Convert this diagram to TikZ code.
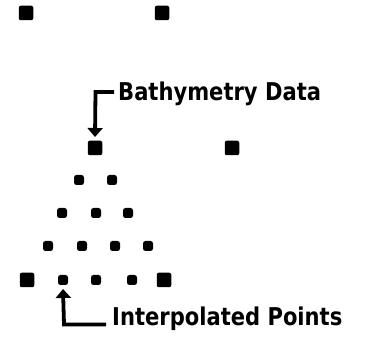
\documentclass[tikz,border=0pt]{standalone}
\usepackage{fontspec}
\newfontfamily\labelfont{DejaVu Sans}[FakeStretch=0.86]
\usetikzlibrary{arrows.meta}
\begin{document}
\begin{tikzpicture}[x=1pt,y=-1pt,
  datapt/.style={fill=black,minimum size=14.5pt,inner sep=0pt,rounded corners=2pt,rectangle},
  interp/.style={fill=black,minimum size=10pt,inner sep=0pt,rounded corners=2.5pt,rectangle},
  leader/.style={line width=3.8pt,-{Triangle[length=9pt,width=15pt]}},
  caption/.style={font=\labelfont\bfseries\fontsize{24.5}{26}\selectfont,anchor=base west,inner sep=0pt}]
\useasboundingbox (0,0) rectangle (365,352);
% surveyed depth soundings
\node[datapt] (d1) at (26,13) {};
\node[datapt] (d2) at (162,13) {};
\node[datapt] (d3) at (95,148) {};
\node[datapt] (d4) at (232,148) {};
\node[datapt] (d5) at (27,280) {};
\node[datapt] (d6) at (164,280) {};
% interpolated grid inside the triangle d3-d5-d6
\node[interp] (r1a) at (79,180) {};
\node[interp] (r1b) at (112,180) {};
\node[interp] (r2a) at (62,213) {};
\node[interp] (r2b) at (96,213) {};
\node[interp] (r2c) at (128,213) {};
\node[interp] (r3a) at (48,246) {};
\node[interp] (r3b) at (82,246) {};
\node[interp] (r3c) at (115,246) {};
\node[interp] (r3d) at (148,246) {};
\node[interp] (r4a) at (63,280) {};
\node[interp] (r4b) at (96,280) {};
\node[interp] (r4c) at (132,280) {};
% labels
\node[caption] (bathy) at (118,101) {Bathymetry Data};
\node[caption] (ipts) at (112,326) {Interpolated Points};
\coordinate (bk1) at (114,92);
\coordinate (bk2) at (106,324.5);
\draw[leader] (bk1) -- (95.5,92) -- (d3.north |- 0,137);
\draw[leader] (bk2) -- (64,324.5) -- (r4a.south |- 0,289);
\end{tikzpicture}
\end{document}
